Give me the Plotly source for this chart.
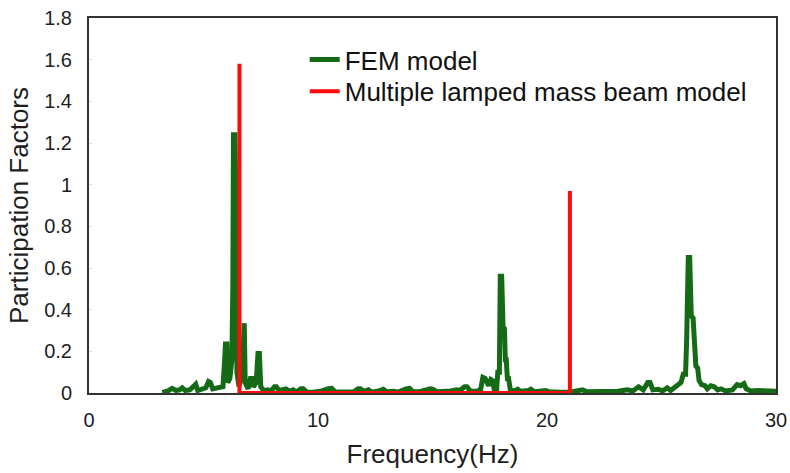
import plotly.graph_objects as go

# FEM model participation-factor spectrum (frequency in Hz, factor)
fem_freq = [3.20, 3.45, 3.63, 3.80, 3.95, 4.07, 4.20, 4.40, 4.60, 4.66, 4.75, 4.95, 5.10, 5.22, 5.30,
            5.40, 5.55, 5.75, 5.85, 5.92, 5.96, 6.02, 6.06, 6.15, 6.20, 6.24, 6.28, 6.31, 6.37, 6.42,
            6.46, 6.55, 6.70, 6.74, 6.78, 6.82, 6.95, 7.05, 7.12, 7.18, 7.30, 7.38, 7.44, 7.50, 7.65,
            7.80, 7.95, 8.10, 8.18, 8.30, 8.50, 8.60, 8.75, 8.92, 9.05, 9.25, 9.35, 9.50, 9.80, 10.10,
            10.45, 10.60, 10.75, 11.00, 11.30, 11.55, 11.75, 11.85, 12.00, 12.20, 12.35, 12.60, 12.85,
            13.00, 13.30, 13.50, 13.85, 14.00, 14.15, 14.45, 14.90, 15.00, 15.20, 15.55, 15.80, 16.05,
            16.20, 16.40, 16.50, 16.65, 16.90, 17.10, 17.20, 17.30, 17.38, 17.45, 17.55, 17.62, 17.70,
            17.80, 17.85, 17.92, 17.96, 18.02, 18.08, 18.14, 18.18, 18.22, 18.27, 18.32, 18.40, 18.60,
            18.72, 18.85, 19.20, 19.30, 19.45, 19.70, 19.95, 20.10, 20.40, 20.60, 21.00, 21.30, 21.55,
            21.75, 22.00, 22.35, 22.55, 22.80, 23.10, 23.50, 23.75, 24.00, 24.20, 24.40, 24.50, 24.62,
            24.85, 25.05, 25.25, 25.40, 25.60, 25.75, 25.85, 25.95, 26.05, 26.10, 26.17, 26.23, 26.30,
            26.38, 26.44, 26.50, 26.58, 26.64, 26.75, 26.90, 27.00, 27.15, 27.30, 27.45, 27.60, 27.80,
            28.10, 28.30, 28.45, 28.60, 28.70, 28.90, 29.20, 29.50, 29.80, 30.00]
fem_pf = [0.003, 0.010, 0.022, 0.012, 0.015, 0.025, 0.012, 0.015, 0.035, 0.042, 0.012, 0.018, 0.025, 0.055, 0.050,
          0.020, 0.025, 0.030, 0.030, 0.150, 0.235, 0.235, 0.050, 0.070, 0.150, 0.160, 0.500, 1.240, 1.240, 0.900,
          0.100, 0.030, 0.100, 0.335, 0.335, 0.050, 0.020, 0.070, 0.070, 0.030, 0.050, 0.190, 0.190, 0.030, 0.010,
          0.015, 0.010, 0.030, 0.030, 0.012, 0.020, 0.020, 0.008, 0.015, 0.005, 0.020, 0.020, 0.005, 0.004, 0.008,
          0.020, 0.022, 0.005, 0.004, 0.008, 0.005, 0.020, 0.020, 0.008, 0.016, 0.005, 0.008, 0.018,
          0.006, 0.008, 0.004, 0.020, 0.022, 0.006, 0.006, 0.020, 0.018, 0.006, 0.006, 0.010, 0.015,
          0.012, 0.030, 0.030, 0.010, 0.008, 0.015, 0.075, 0.070, 0.040, 0.035, 0.065, 0.060, 0.015,
          0.015, 0.100, 0.100, 0.560, 0.560, 0.320, 0.310, 0.160, 0.160, 0.070, 0.070, 0.015, 0.010,
          0.018, 0.008, 0.012, 0.018, 0.006, 0.008, 0.012, 0.006, 0.008, 0.004, 0.004, 0.008, 0.015,
          0.006, 0.006, 0.010, 0.008, 0.010, 0.008, 0.015, 0.010, 0.030, 0.015, 0.050, 0.050, 0.015,
          0.018, 0.010, 0.025, 0.012, 0.030, 0.045, 0.050, 0.090, 0.090, 0.260, 0.650, 0.650, 0.370,
          0.360, 0.220, 0.130, 0.120, 0.060, 0.040, 0.035, 0.020, 0.035, 0.030, 0.015, 0.020, 0.010,
          0.015, 0.040, 0.035, 0.045, 0.020, 0.010, 0.012, 0.010, 0.008, 0.008]

# Multiple lumped mass beam model: two modes joined along the baseline
beam_freq = [6.57, 6.57, 21.0, 21.0]
beam_pf = [1.58, 0.0, 0.0, 0.97]

x_ticks = [0, 10, 20, 30]
y_ticks = [0, 0.2, 0.4, 0.6, 0.8, 1.0, 1.2, 1.4, 1.6, 1.8]
y_tick_text = ["0", "0.2", "0.4", "0.6", "0.8", "1", "1.2", "1.4", "1.6", "1.8"]

FONT = "Liberation Sans, Arial, sans-serif"
TEXT = "#1e1e1e"

fig = go.Figure()
fig.add_trace(go.Scatter(x=fem_freq, y=fem_pf, mode="lines", name="FEM model",
                         line=dict(color="#156a15", width=5), legend="legend"))
fig.add_trace(go.Scatter(x=beam_freq, y=beam_pf, mode="lines", name="Multiple lamped mass beam model",
                         line=dict(color="#ff0a0a", width=4), legend="legend2"))

legend_style = dict(xanchor="left", yanchor="top",
                    font=dict(size=26, family=FONT, color="#111111"),
                    bgcolor="rgba(0,0,0,0)", itemwidth=30)

fig.update_layout(
    width=790, height=473,
    margin=dict(l=89, r=14, t=18, b=80, autoexpand=False),
    paper_bgcolor="white", plot_bgcolor="white",
    font=dict(family=FONT, color=TEXT),
    legend=dict(x=0.314, y=0.952, **legend_style),
    legend2=dict(x=0.314, y=0.867, **legend_style),
    showlegend=True,
)
fig.update_xaxes(range=[0, 30], tickvals=x_ticks, ticktext=[str(t) for t in x_ticks],
                 showgrid=False, zeroline=False, showline=True, linecolor="#333333", linewidth=2,
                 mirror=True, ticks="", automargin=False,
                 tickfont=dict(size=20, family=FONT, color=TEXT),
                 ticklabelstandoff=8,
                 title=dict(text="Frequency(Hz)", font=dict(size=26, family=FONT, color=TEXT),
                            standoff=15))
fig.update_yaxes(range=[0, 1.8], tickvals=y_ticks, ticktext=y_tick_text,
                 showgrid=False, zeroline=False, showline=True, linecolor="#333333", linewidth=2,
                 mirror=True, ticks="inside", ticklen=3, tickcolor="#dddddd", automargin=False,
                 tickfont=dict(size=20, family=FONT, color=TEXT),
                 ticklabelstandoff=11,
                 title=dict(text="Participation Factors", font=dict(size=26, family=FONT, color=TEXT),
                            standoff=8))

fig.write_html("out.html")
